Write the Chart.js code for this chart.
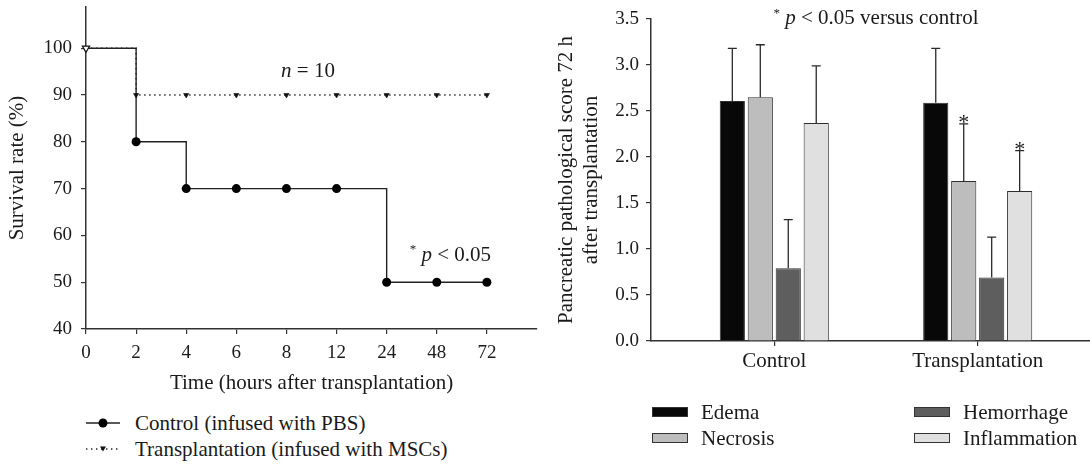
<!DOCTYPE html>
<html>
<head>
<meta charset="utf-8">
<script src="https://cdn.jsdelivr.net/npm/chart.js@4/dist/chart.umd.min.js"></script>
<style>
html,body{margin:0;padding:0;background:#fff;}
#wrap{position:relative;width:1090px;height:464px;overflow:hidden;font-family:"Liberation Serif","Times New Roman",serif;color:#1a1a1a;}
#c1{position:absolute;left:0;top:0;}
#c2{position:absolute;left:540px;top:0;}
.leg{position:absolute;font-size:21px;line-height:26px;white-space:nowrap;}
.box{position:absolute;width:36px;height:10px;box-sizing:border-box;border:1px solid #333;}
svg{position:absolute;}
</style>
</head>
<body>
<div id="wrap">
  <canvas id="c1" width="560" height="400"></canvas>
  <canvas id="c2" width="550" height="400"></canvas>

  <svg style="left:86px;top:413px" width="34" height="20"><line x1="0" y1="10" x2="34" y2="10" stroke="#222" stroke-width="1.4"/><circle cx="17" cy="10" r="4.5" fill="#000"/></svg>
  <div class="leg" style="left:135px;top:410px">Control (infused with PBS)</div>
  <svg style="left:86px;top:439px" width="34" height="20"><line x1="0" y1="10" x2="34" y2="10" stroke="#222" stroke-width="1.4" stroke-dasharray="1.4 3.6"/><polygon points="14,7.5 20,7.5 17,12.5" fill="#111"/></svg>
  <div class="leg" style="left:135px;top:436px">Transplantation (infused with MSCs)</div>

  <div class="box" style="left:652px;top:407px;background:#080808"></div>
  <div class="leg" style="left:701px;top:399px">Edema</div>
  <div class="box" style="left:652px;top:433px;background:#bdbdbd"></div>
  <div class="leg" style="left:701px;top:425px">Necrosis</div>
  <div class="box" style="left:914px;top:407px;background:#5e5e5e"></div>
  <div class="leg" style="left:963px;top:399px">Hemorrhage</div>
  <div class="box" style="left:914px;top:433px;background:#e0e0e0"></div>
  <div class="leg" style="left:963px;top:425px">Inflammation</div>
</div>
<script>
// ---------- data: survival chart ----------
const timeLabels = ['0','2','4','6','8','12','24','48','72'];
const controlSurvival = [100,80,70,70,70,70,50,50,50];
const transplantSurvival = [100,90,90,90,90,90,90,90,90];
const survivalTicks = [40,50,60,70,80,90,100];

// ---------- data: pathological score chart ----------
const groups = ['Control','Transplantation'];
const edema = [2.61, 2.59];
const necrosis = [2.65, 1.74];
const hemorrhage = [0.79, 0.69];
const inflammation = [2.37, 1.63];
const edemaSD = [0.57, 0.59];
const necrosisSD = [0.57, 0.62];
const hemorrhageSD = [0.53, 0.44];
const inflammationSD = [0.62, 0.44];
const necrosisSig = [false, true];
const inflammationSig = [false, true];
const scoreTicks = [0,0.5,1,1.5,2,2.5,3,3.5];

const TXT = '#1a1a1a';
const AX = '#333';
const FONT = '"Liberation Serif", "Times New Roman", serif';
Chart.defaults.font.family = FONT;
Chart.defaults.color = TXT;

function drawRich(ctx, cx, cy, parts, size) {
  const fonts = parts.map(p => p[1] === 'i' ? `italic ${size}px ${FONT}` :
                               p[1] === 's' ? `${Math.round(size*0.62)}px ${FONT}` : `${size}px ${FONT}`);
  let w = 0;
  parts.forEach((p,k) => { ctx.font = fonts[k]; w += ctx.measureText(p[0]).width; });
  let x = cx - w/2;
  const base = cy + size*0.33;
  ctx.save();
  ctx.fillStyle = TXT;
  ctx.textAlign = 'left';
  ctx.textBaseline = 'alphabetic';
  parts.forEach((p,k) => {
    ctx.font = fonts[k];
    ctx.fillText(p[0], x, p[1] === 's' ? base - size*0.36 : base);
    x += ctx.measureText(p[0]).width;
  });
  ctx.restore();
}

const notesPlugin = {
  id: 'notes',
  afterDraw(chart, args, opts) {
    const ctx = chart.ctx;
    (opts.items || []).forEach(n => {
      const px = chart.scales.x.getPixelForValue(n.x);
      const py = chart.scales.y.getPixelForValue(n.y);
      drawRich(ctx, px, py, n.parts, n.size || 21);
    });
  }
};

const axisGrid = {drawOnChartArea:false, drawTicks:true, tickLength:5, color:AX, lineWidth:1.2, offset:false};
const axisBorder = {display:true, color:AX, width:1.5};
const fixY = w => s => { s.width = w; s.paddingTop = 0; s.paddingBottom = 0; };
const fixX = h => s => { s.height = h; s.paddingLeft = 0; s.paddingRight = 0; };

// ---------- survival chart ----------
new Chart(document.getElementById('c1'), {
  type: 'line',
  data: {
    datasets: [
      {
        label: 'Transplantation (infused with MSCs)',
        data: transplantSurvival.map((v,i) => ({x:i, y:v})),
        stepped: true,
        borderColor: '#222', borderWidth: 1.4, borderDash: [1.4, 3.6],
        pointStyle: 'triangle', rotation: 180,
        pointRadius: c => c.dataIndex === 0 ? 4.2 : 3,
        pointBackgroundColor: c => c.dataIndex === 0 ? '#fff' : '#111',
        pointBorderColor: '#111',
        pointBorderWidth: c => c.dataIndex === 0 ? 1.2 : 0.6,
        clip: false, order: 0
      },
      {
        label: 'Control (infused with PBS)',
        data: controlSurvival.map((v,i) => ({x:i, y:v})),
        stepped: true,
        borderColor: '#222', borderWidth: 1.4,
        pointStyle: 'circle',
        pointRadius: c => c.dataIndex === 0 ? 0 : 4.5,
        pointBackgroundColor: '#000', pointBorderColor: '#000', pointBorderWidth: 0,
        clip: false, order: 1
      }
    ]
  },
  options: {
    responsive: false, animation: false,
    layout: {padding: {left:0, top:7, right:23, bottom:4}},
    plugins: {
      legend: {display:false}, tooltip: {enabled:false},
      notes: {items: [
        {x:4.43, y:95.3, parts:[['n','i'],[' = 10','']]},
        {x:7.27, y:56, parts:[['*','s'],[' ',''],['p','i'],[' < 0.05','']]}
      ]}
    },
    scales: {
      x: {
        type: 'linear', min: 0, max: 9, offset: false,
        afterBuildTicks: s => { s.ticks = timeLabels.map((_,i) => ({value:i})); },
        ticks: {callback: v => timeLabels[v], font:{size:19}, padding:8, maxRotation:0, autoSkip:false, color:TXT},
        grid: axisGrid, border: axisBorder,
        title: {display:true, text:'Time (hours after transplantation)', font:{size:21}, padding:{top:0, bottom:0}, color:TXT},
        afterFit: fixX(67)
      },
      y: {
        min: 40, max: 108.8,
        afterBuildTicks: s => { s.ticks = survivalTicks.map(v => ({value:v})); },
        ticks: {font:{size:19}, padding:9, color:TXT},
        grid: axisGrid, border: axisBorder,
        title: {display:true, text:'Survival rate (%)', font:{size:21}, padding:{top:5, bottom:0}, color:TXT},
        afterFit: fixY(86)
      }
    }
  },
  plugins: [notesPlugin]
});

// ---------- pathological score chart ----------
const sdSets = [edemaSD, necrosisSD, hemorrhageSD, inflammationSD];
const sigSets = [null, necrosisSig, null, inflammationSig];

const errorBarPlugin = {
  id: 'errbars',
  afterDatasetsDraw(chart) {
    const ctx = chart.ctx, ys = chart.scales.y;
    ctx.save();
    ctx.strokeStyle = '#2a2a2a';
    ctx.lineWidth = 1.3;
    ctx.fillStyle = TXT;
    chart.data.datasets.forEach((ds, di) => {
      const meta = chart.getDatasetMeta(di);
      meta.data.forEach((bar, j) => {
        const top = ys.getPixelForValue(ds.data[j].y + sdSets[di][j]);
        ctx.beginPath();
        ctx.moveTo(bar.x, bar.y);
        ctx.lineTo(bar.x, top);
        ctx.moveTo(bar.x - 4.5, top);
        ctx.lineTo(bar.x + 4.5, top);
        ctx.stroke();
        if (sigSets[di] && sigSets[di][j]) {
          ctx.font = `22px ${FONT}`;
          ctx.textAlign = 'center';
          ctx.textBaseline = 'alphabetic';
          ctx.fillText('*', bar.x, top + 5);
        }
      });
    });
    ctx.restore();
  }
};

const barSeries = [
  ['Edema', edema, '#080808'],
  ['Necrosis', necrosis, '#bdbdbd'],
  ['Hemorrhage', hemorrhage, '#5e5e5e'],
  ['Inflammation', inflammation, '#e0e0e0']
];

new Chart(document.getElementById('c2'), {
  type: 'bar',
  data: {
    datasets: barSeries.map(s => ({
      label: s[0],
      data: s[1].map((v,i) => ({x:i, y:v})),
      backgroundColor: s[2], borderColor: '#2e2e2e', borderWidth: 1,
      categoryPercentage: 0.55, barPercentage: 0.9
    }))
  },
  options: {
    responsive: false, animation: false,
    layout: {padding: {left:0, top:19, right:0, bottom:19}},
    plugins: {
      legend: {display:false}, tooltip: {enabled:false},
      notes: {items: [
        {x:0.5, y:3.52, parts:[['*','s'],[' ',''],['p','i'],[' < 0.05 versus control','']]}
      ]}
    },
    scales: {
      x: {
        type: 'linear', min: -0.606, max: 1.552, offset: false,
        afterBuildTicks: s => { s.ticks = groups.map((_,i) => ({value:i})); },
        ticks: {callback: v => groups[v], font:{size:21}, padding:3, maxRotation:0, autoSkip:false, color:TXT},
        grid: axisGrid, border: axisBorder,
        afterFit: fixX(40)
      },
      y: {
        min: 0, max: 3.5,
        afterBuildTicks: s => { s.ticks = scoreTicks.map(v => ({value:v})); },
        ticks: {font:{size:19}, padding:7, color:TXT, callback: v => Number(v).toFixed(1)},
        grid: axisGrid, border: axisBorder,
        title: {display:true, text:['Pancreatic pathological score 72 h','after transplantation'], font:{size:21, lineHeight:1.2}, padding:{top:14, bottom:0}, color:TXT},
        afterFit: fixY(111)
      }
    }
  },
  plugins: [errorBarPlugin, notesPlugin]
});
</script>
</body>
</html>
